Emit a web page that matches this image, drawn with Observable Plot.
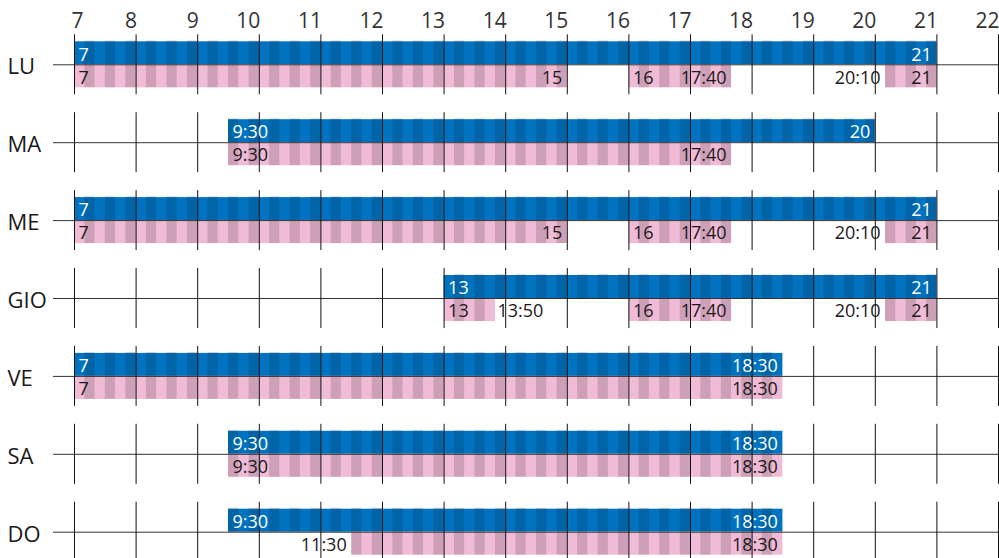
<!DOCTYPE html>
<html><head><meta charset="utf-8">
<script src="https://cdn.jsdelivr.net/npm/d3@7"></script>
<script src="https://cdn.jsdelivr.net/npm/@observablehq/plot@0.6"></script>
<style>body{margin:0;background:#fff;}</style>
</head><body><div id="chart"></div>
<script>
// ---- data ----
const days = ["LU", "MA", "ME", "GIO", "VE", "SA", "DO"];
const hourTicks = [7, 8, 9, 10, 11, 12, 13, 14, 15, 16, 17, 18, 19, 20, 21, 22];

// blue: opening span per day
const openStart = ["7", "9:30", "7", "13", "7", "9:30", "9:30"];
const openEnd   = ["21", "20", "21", "21", "18:30", "18:30", "18:30"];

// pink: segments
const segDay   = ["LU", "LU", "LU", "MA", "ME", "ME", "ME", "GIO", "GIO", "GIO", "VE", "SA", "DO"];
const segStart = ["7", "16", "20:10", "9:30", "7", "16", "20:10", "13", "16", "20:10", "7", "9:30", "11:30"];
const segEnd   = ["15", "17:40", "21", "17:40", "15", "17:40", "21", "13:50", "17:40", "21", "18:30", "18:30", "18:30"];
const segStartOut = [false, false, true, false, false, false, true, false, false, true, false, false, true];
const segEndOut   = [false, false, false, false, false, false, false, true, false, false, false, false, false];

// ---- helpers ----
const toH = (t) => { const [h, m = "0"] = t.split(":"); return +h + (+m) / 60; };
const rowOf = (d) => days.indexOf(d);

const blue = days.map((d, i) => ({row: i, s: toH(openStart[i]), e: toH(openEnd[i]), sl: openStart[i], el: openEnd[i]}));
const pink = segDay.map((d, i) => ({row: rowOf(d), s: toH(segStart[i]), e: toH(segEnd[i]), sl: segStart[i], el: segEnd[i], so: segStartOut[i], eo: segEndOut[i]}));

function stripes(segs, kind) {
  const out = [];
  for (const g of segs) {
    for (let h = Math.floor(g.s); h < Math.ceil(g.e); h++) {
      for (const m of [10, 30, 50]) {
        const a = Math.max(g.s, h + m / 60), b = Math.min(g.e, h + (m + 10) / 60);
        if (b > a + 1e-9) out.push({row: g.row, s: a, e: b, kind});
      }
    }
  }
  return out;
}
const blueStripes = stripes(blue, "b");
const pinkStripes = stripes(pink, "p");

const grid = [];
days.forEach((d, i) => hourTicks.forEach((h) => grid.push({row: i, h})));

const BLUE = "#0073c0", PINK = "#f0bbd6";

const chart = Plot.plot({
  width: 999, height: 558,
  marginLeft: 53, marginRight: 0, marginTop: 0, marginBottom: 0,
  x: {domain: [7, 22], range: [74, 998], axis: null},
  y: {domain: [0, 6], range: [64.3, 531.7], axis: null},
  style: {fontFamily: "'Open Sans', sans-serif", background: "#fff"},
  marks: [
    Plot.rect(blue, {x1: "s", x2: "e", y1: "row", y2: "row", insetTop: -23, fill: BLUE}),
    Plot.rect(pink, {x1: "s", x2: "e", y1: "row", y2: "row", insetBottom: -23, fill: PINK}),
    Plot.rect(blueStripes, {x1: "s", x2: "e", y1: "row", y2: "row", insetTop: -24, fill: "#000", fillOpacity: 0.13}),
    Plot.rect(pinkStripes, {x1: "s", x2: "e", y1: "row", y2: "row", insetBottom: -23, fill: "#000", fillOpacity: 0.14}),
    Plot.ruleY(days.map((d, i) => i), {y: (d) => d, stroke: "#333", strokeWidth: 1}),
    Plot.ruleX(grid, {x: "h", y1: "row", y2: "row", insetTop: -30, insetBottom: -30, stroke: "#111", strokeWidth: 1}),
    // axis labels (top)
    Plot.text(hourTicks.slice(0, 1), {x: (d) => d, text: (d) => String(d), frameAnchor: "top", lineAnchor: "middle", dy: 20.5, dx: -3, textAnchor: "start", fontSize: 21, fill: "#333"}),
    Plot.text(hourTicks.slice(1), {x: (d) => d, text: (d) => String(d), frameAnchor: "top", lineAnchor: "middle", dy: 20.5, dx: 1, textAnchor: "end", fontSize: 21, fill: "#333"}),
    // day labels
    Plot.text(days, {y: (d, i) => i, text: (d) => d, frameAnchor: "left", lineAnchor: "middle", dx: -46, dy: 2.5, textAnchor: "start", fontSize: 22, fill: "#1a1a1a"}),
    // blue labels
    Plot.text(blue, {x: "s", y: "row", text: "sl", dx: 4, dy: -10, textAnchor: "start", fontSize: 18, fill: "#fff"}),
    Plot.text(blue, {x: "e", y: "row", text: "el", dx: -5, dy: -10, textAnchor: "end", fontSize: 18, fill: "#fff"}),
    // pink labels
    Plot.text(pink.filter((d) => !d.so), {x: "s", y: "row", text: "sl", dx: 4, dy: 13, textAnchor: "start", fontSize: 18, fill: "#1a1a1a"}),
    Plot.text(pink.filter((d) => d.so), {x: "s", y: "row", text: "sl", dx: -5, dy: 13, textAnchor: "end", fontSize: 18, fill: "#1a1a1a"}),
    Plot.text(pink.filter((d) => !d.eo), {x: "e", y: "row", text: "el", dx: -5, dy: 13, textAnchor: "end", fontSize: 18, fill: "#1a1a1a"}),
    Plot.text(pink.filter((d) => d.eo), {x: "e", y: "row", text: "el", dx: 2, dy: 13, textAnchor: "start", fontSize: 18, fill: "#1a1a1a"})
  ]
});
document.getElementById("chart").append(chart);
</script>
</body></html>
